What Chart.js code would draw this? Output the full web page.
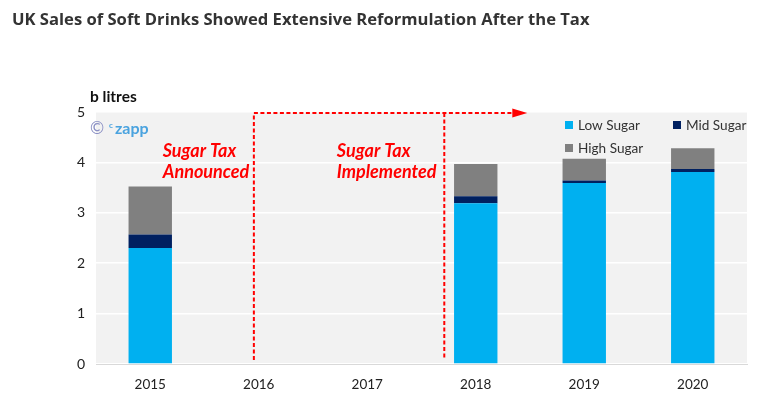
<!DOCTYPE html>
<html>
<head>
<meta charset="utf-8">
<script src="https://cdn.jsdelivr.net/npm/chart.js@4"></script>
<style>
  html, body { margin: 0; padding: 0; background: #fff; }
  #wrap { width: 780px; height: 404px; }
</style>
</head>
<body>
<div id="wrap"><canvas id="sugarChart"></canvas></div>
<script>
const years = ["2015", "2016", "2017", "2018", "2019", "2020"];
const lowSugar = [2.30, null, null, 3.19, 3.59, 3.81];
const midSugar = [0.27, null, null, 0.14, 0.05, 0.06];
const highSugar = [0.95, null, null, 0.64, 0.43, 0.41];
const yTicks = [0, 1, 2, 3, 4, 5];

const titleText = "UK Sales of Soft Drinks Showed Extensive Reformulation After the Tax";
const BODY = "Lato, 'Open Sans', sans-serif";
const RED = "#ff0000";

// background, title, labels, tax markers, legend
const decor = {
  id: "decor",
  beforeDraw(chart) {
    const { ctx, chartArea: a } = chart;
    ctx.save();
    ctx.fillStyle = "#f2f2f2";
    ctx.fillRect(a.left, a.top, a.right - a.left, a.bottom - a.top);
    ctx.restore();
  },
  afterDraw(chart) {
    const { ctx } = chart;
    const x = chart.scales.x, y = chart.scales.y;
    ctx.save();

    ctx.fillStyle = "#333";
    ctx.font = "bold 16.6px 'Open Sans', sans-serif";
    ctx.textBaseline = "middle";
    ctx.fillText(titleText, 12, 20);

    ctx.font = "bold 15.5px " + BODY;
    ctx.fillStyle = "#111";
    ctx.fillText("b litres", 90, 97);

    // watermark
    ctx.font = "17px " + BODY;
    ctx.fillStyle = "#8b90c4";
    ctx.fillText("\u00A9", 90, 129);
    ctx.font = "bold 8px " + BODY;
    ctx.fillStyle = "#4aa3df";
    ctx.fillText("c", 109, 125);
    ctx.font = "bold 16px " + BODY;
    ctx.fillText("zapp", 115, 129);

    // dashed tax markers
    const xa = x.getPixelForValue(0.955);
    const xb = x.getPixelForValue(2.71);
    const xEnd = x.getPixelForValue(3.475);
    const yTop = y.getPixelForValue(5) + 1;
    const yBot = y.getPixelForValue(0.08);
    ctx.strokeStyle = RED;
    ctx.lineWidth = 2;
    ctx.setLineDash([4, 2.5]);
    ctx.beginPath();
    ctx.moveTo(xa, yBot); ctx.lineTo(xa, yTop);
    ctx.lineTo(xEnd - 14, yTop);
    ctx.moveTo(xb, yTop); ctx.lineTo(xb, yBot);
    ctx.stroke();
    ctx.setLineDash([]);
    ctx.fillStyle = RED;
    ctx.beginPath();
    ctx.moveTo(xEnd - 15, yTop - 4.5);
    ctx.lineTo(xEnd, yTop);
    ctx.lineTo(xEnd - 15, yTop + 4.5);
    ctx.closePath();
    ctx.fill();

    ctx.font = "italic bold 18px " + BODY;
    ctx.textAlign = "left";
    const t1 = x.getPixelForValue(0.115), t2 = x.getPixelForValue(1.72);
    const l1 = y.getPixelForValue(4.23), l2 = y.getPixelForValue(3.80);
    ctx.fillText("Sugar Tax", t1, l1);
    ctx.fillText("Announced", t1, l2);
    ctx.fillText("Sugar Tax", t2, l1);
    ctx.fillText("Implemented", t2, l2);

    // legend
    const ds = chart.data.datasets;
    const spots = [[565, 125], [673, 125], [565, 148]];
    ctx.font = "13.6px " + BODY;
    ds.forEach((d, i) => {
      const [lx, ly] = spots[i];
      ctx.fillStyle = d.backgroundColor;
      ctx.fillRect(lx, ly - 4, 8, 8);
      ctx.fillStyle = "#333";
      ctx.fillText(d.label, lx + 13, ly + 1);
    });
    ctx.restore();
  }
};

new Chart(document.getElementById("sugarChart"), {
  type: "bar",
  data: {
    labels: years,
    datasets: [
      { label: "Low Sugar", data: lowSugar, backgroundColor: "#00b0f0" },
      { label: "Mid Sugar", data: midSugar, backgroundColor: "#002060" },
      { label: "High Sugar", data: highSugar, backgroundColor: "#808080" }
    ]
  },
  options: {
    responsive: true,
    maintainAspectRatio: false,
    animation: false,
    layout: { padding: { top: 112, left: 12, right: 33, bottom: 0 } },
    datasets: { bar: { categoryPercentage: 1, barPercentage: 0.4 } },
    plugins: { legend: { display: false }, tooltip: { enabled: false } },
    scales: {
      x: {
        stacked: true,
        grid: { display: false },
        border: { color: "#d9d9d9", width: 1 },
        ticks: { padding: 5, color: "#222", font: { family: BODY, size: 13.5 } },
        afterFit: s => { s.height = 40; }
      },
      y: {
        stacked: true,
        min: 0,
        max: 5,
        afterBuildTicks: s => { s.ticks = yTicks.map(v => ({ value: v })); },
        grid: { color: "#ffffff", lineWidth: 1.5, drawTicks: false },
        border: { display: false },
        ticks: { padding: 11, color: "#222", font: { family: BODY, size: 14 } },
        afterFit: s => { s.width = 84; }
      }
    }
  },
  plugins: [decor]
});
</script>
</body>
</html>
